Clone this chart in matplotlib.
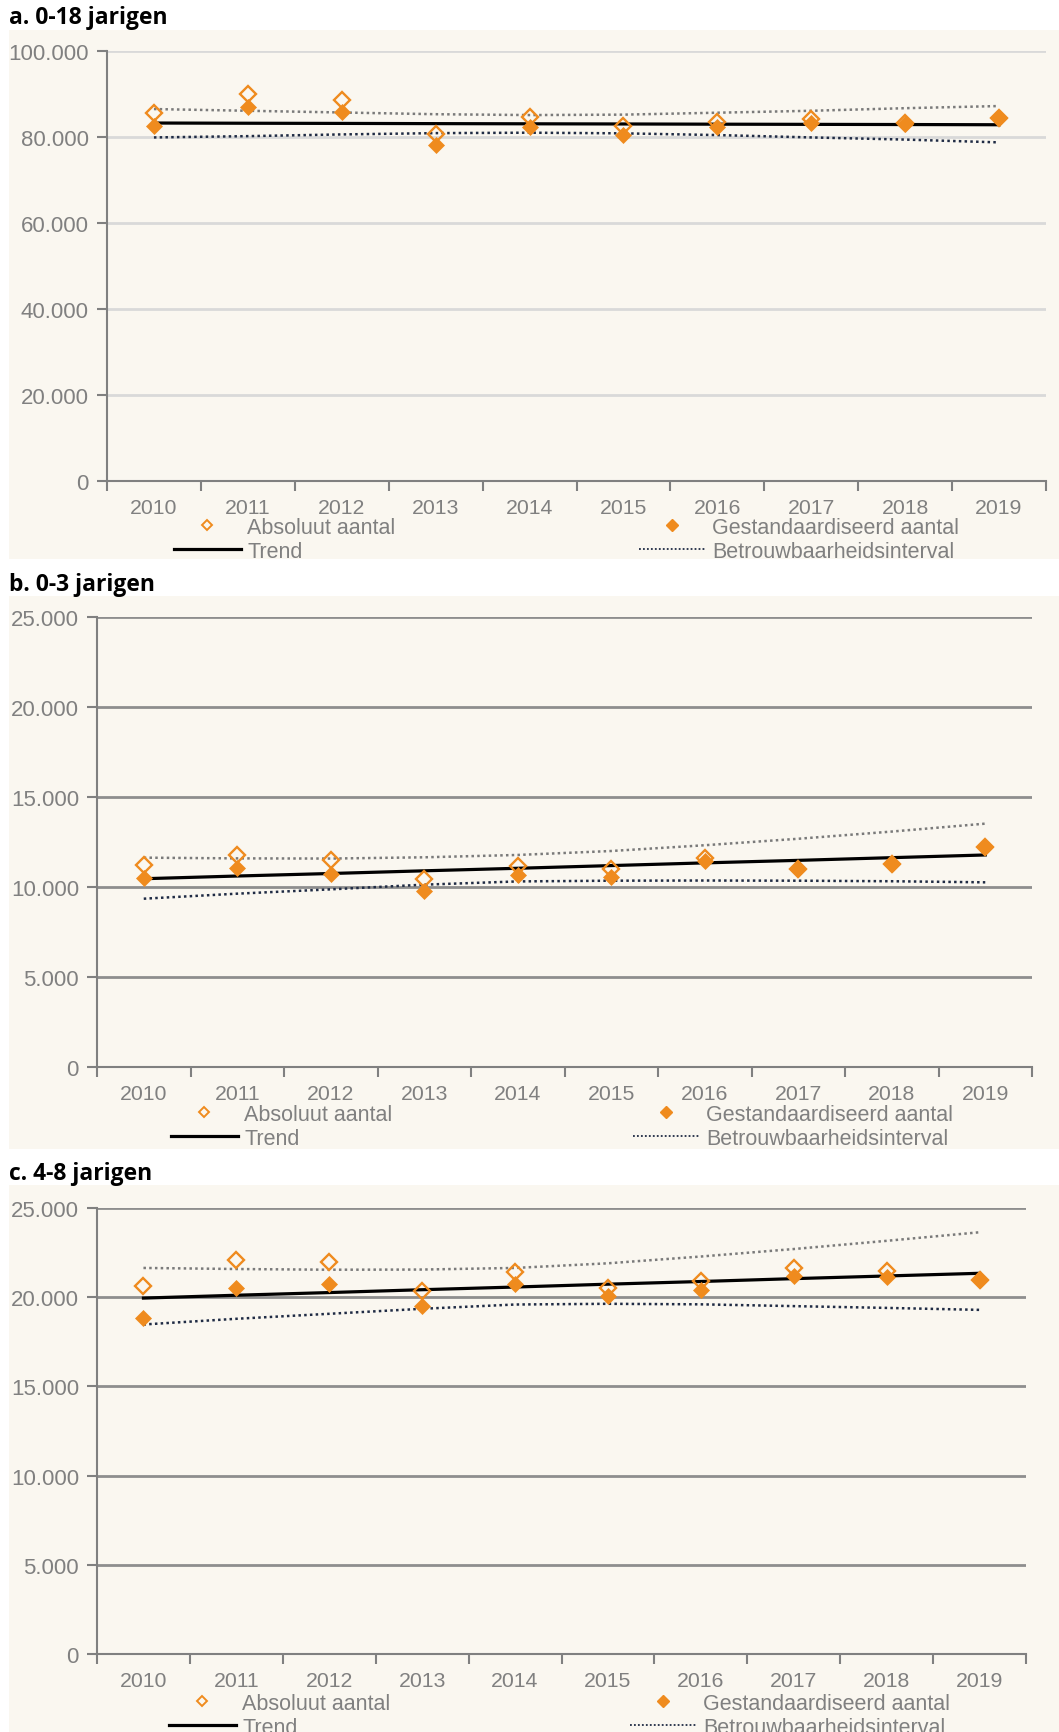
import numpy as np
import matplotlib
matplotlib.use("Agg")
import matplotlib.pyplot as plt
from matplotlib.patches import Rectangle
from matplotlib.lines import Line2D
from matplotlib.ticker import FuncFormatter

# -----------------------------
# Data
# -----------------------------
years = ["2010", "2011", "2012", "2013", "2014", "2015", "2016", "2017", "2018", "2019"]

a_absoluut = [85600, 90100, 88700, 80700, 84600, 82600, 83600, 84300, 83300, 84400]
a_gestand = [82500, 87000, 85700, 78200, 82400, 80500, 82300, 83300, 83000, 84400]
a_trend = [83250, 83200, 83160, 83110, 83070, 83030, 82980, 82940, 82900, 82850]
a_upper = [86500, 86100, 85700, 85300, 85100, 85200, 85650, 86100, 86700, 87200]
a_lower = [79900, 80200, 80600, 80900, 81000, 80850, 80450, 79900, 79400, 78750]

b_absoluut = [11240, 11790, 11480, 10420, 11170, 10980, 11610, 11020, 11300, 12220]
b_gestand = [10500, 11055, 10740, 9780, 10640, 10570, 11420, 11020, 11290, 12220]
b_trend = [10460, 10610, 10750, 10900, 11040, 11190, 11340, 11480, 11630, 11780]
b_upper = [11630, 11590, 11580, 11650, 11780, 12000, 12320, 12680, 13080, 13520]
b_lower = [9350, 9630, 9870, 10130, 10310, 10350, 10360, 10350, 10320, 10260]

c_absoluut = [20620, 22110, 21990, 20370, 21400, 20520, 20900, 21640, 21460, 20970]
c_gestand = [18840, 20500, 20750, 19530, 20750, 20040, 20430, 21210, 21120, 20970]
c_trend = [19950, 20110, 20260, 20420, 20570, 20730, 20880, 21040, 21190, 21340]
c_upper = [21640, 21580, 21540, 21550, 21640, 21900, 22280, 22700, 23160, 23640]
c_lower = [18470, 18790, 19070, 19350, 19590, 19630, 19600, 19500, 19400, 19290]

a_yticks = [0, 20000, 40000, 60000, 80000, 100000]
bc_yticks = [0, 5000, 10000, 15000, 20000, 25000]

ORANGE = "#EF8B1E"
BG = "#FAF7F0"
TICKGREY = "#808080"
NAVY = "#1F2B44"

W, H = 1059, 1733
plt.rcParams["font.family"] = ["Liberation Sans", "DejaVu Sans"]

fig = plt.figure(figsize=(W / 100, H / 100), dpi=100)


def fx(px):
    return px / W


def fy(py):
    return 1 - py / H


def thousands(v, pos):
    return f"{int(v):,}".replace(",", ".")


def panel(title, title_y, bg_top, bg_bottom, box, yticks, grid_color,
          absoluut, gestand, trend, upper, lower, leg_rows, leg_x):
    # cream panel background
    fig.add_artist(Rectangle((fx(9), fy(bg_bottom)), fx(W - 9), (bg_bottom - bg_top) / H,
                             transform=fig.transFigure, facecolor=BG,
                             edgecolor="none", zorder=0))
    fig.text(fx(9), fy(title_y), title, fontsize=16.5, fontweight="bold",
             family="Open Sans", va="center", ha="left")

    left, top, right, bottom = box
    ax = fig.add_axes([fx(left), fy(bottom), fx(right - left), (bottom - top) / H])
    ax.set_facecolor("none")
    x = np.arange(len(years))

    ax.plot(x, upper, color="#7a7a7a", lw=1.8, ls=(0, (1, 1.3)), zorder=3)
    ax.plot(x, lower, color=NAVY, lw=1.8, ls=(0, (1, 1.3)), zorder=3)
    ax.plot(x, trend, color="black", lw=2.3, zorder=3)
    ax.plot(x, absoluut, ls="none", marker="D", ms=8, mfc="none",
            mec=ORANGE, mew=1.7, zorder=4)
    ax.plot(x, gestand, ls="none", marker="D", ms=8.5, mfc=ORANGE,
            mec=ORANGE, mew=0.5, zorder=5)

    ax.set_xlim(-0.5, 9.5)
    ax.set_ylim(yticks[0], yticks[-1])
    ax.set_yticks(yticks)
    ax.yaxis.set_major_formatter(FuncFormatter(thousands))
    ax.set_xticks(np.arange(-0.5, 10, 1))
    ax.set_xticklabels([])
    ax.set_xticks(x, minor=True)
    ax.set_xticklabels(years, minor=True)
    ax.tick_params(axis="x", which="major", length=7, width=1.5, color=TICKGREY)
    ax.tick_params(axis="x", which="minor", length=0, pad=12, labelsize=15.3,
                   labelcolor=TICKGREY)
    ax.tick_params(axis="y", length=7, width=1.5, color=TICKGREY, pad=6,
                   labelsize=16, labelcolor=TICKGREY)
    ax.grid(axis="y", color=grid_color, lw=2)
    ax.set_axisbelow(True)
    for s in ["top", "right"]:
        ax.spines[s].set_visible(False)
    for s in ["left", "bottom"]:
        ax.spines[s].set_color(TICKGREY)
        ax.spines[s].set_linewidth(1.5)

    # legend: two columns placed separately
    h_abs = Line2D([], [], ls="none", marker="D", ms=5.5, mfc="none", mec=ORANGE, mew=1.4)
    h_trend = Line2D([], [], color="black", lw=2.3)
    h_std = Line2D([], [], ls="none", marker="D", ms=6, mfc=ORANGE, mec=ORANGE)
    h_ci = Line2D([], [], color=NAVY, lw=1.3, ls=(0, (1, 1.2)))
    kw = dict(frameon=False, fontsize=15.5, labelcolor=TICKGREY, handlelength=3.1,
              handletextpad=0.3, labelspacing=0.13, borderpad=0, borderaxespad=0,
              loc="upper left", bbox_transform=fig.transFigure)
    row_top = leg_rows - 8
    leg1 = ax.legend([h_abs, h_trend], ["Absoluut aantal", "Trend"],
                     bbox_to_anchor=(fx(leg_x[0]), fy(row_top)), **kw)
    ax.add_artist(leg1)
    ax.legend([h_std, h_ci], ["Gestandaardiseerd aantal", "Betrouwbaarheidsinterval"],
              bbox_to_anchor=(fx(leg_x[1]), fy(row_top)), **kw)
    return ax


# -----------------------------
# a. 0-18 jarigen
# -----------------------------
panel("a. 0-18 jarigen", 18, 31, 560, (107, 52, 1046, 482), a_yticks, "#d9d9d9",
      a_absoluut, a_gestand, a_trend, a_upper, a_lower, 526, (174, 639))

# -----------------------------
# b. 0-3 jarigen
# -----------------------------
panel("b. 0-3 jarigen", 585, 597, 1150, (97, 618, 1032, 1068), bc_yticks, "#8e8e8e",
      b_absoluut, b_gestand, b_trend, b_upper, b_lower, 1113, (171, 633))

# -----------------------------
# c. 4-8 jarigen
# -----------------------------
panel("c. 4-8 jarigen", 1174, 1186, 1740, (97, 1209, 1026, 1655), bc_yticks, "#8e8e8e",
      c_absoluut, c_gestand, c_trend, c_upper, c_lower, 1702, (169, 630))

fig.savefig("out.png", dpi=100, facecolor="white")
